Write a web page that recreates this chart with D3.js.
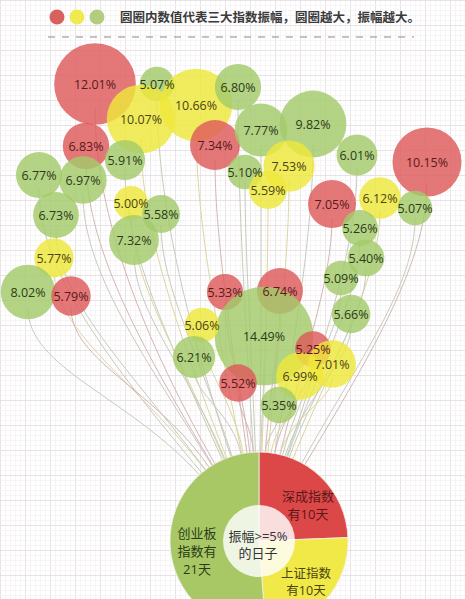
<!DOCTYPE html>
<html><head><meta charset="utf-8">
<script src="https://cdn.jsdelivr.net/npm/d3@7/dist/d3.min.js"></script>
<style>
html,body{margin:0;padding:0;background:#fff;}
svg{display:block;}
text{font-family:"Open Sans","Noto Sans","Noto Sans CJK SC",sans-serif;}
</style></head>
<body>
<script>
// ---- data ----
const values = [12.01,5.07,10.07,10.66,6.80,7.34,6.83,5.91,6.77,6.97,6.73,5.00,5.58,7.32,5.77,8.02,5.79,
  7.77,9.82,7.53,5.10,5.59,6.01,10.15,7.05,6.12,5.07,5.26,5.40,5.09,5.66,
  5.33,6.74,14.49,5.06,6.21,5.25,7.01,6.99,5.52,5.35];
// 0 = 深成指数 (red), 1 = 上证指数 (yellow), 2 = 创业板指数 (green)
const series = [0,2,1,1,2,0,0,2,2,2,2,1,2,2,1,2,0,
  2,2,1,2,1,2,0,0,1,2,2,2,2,2,
  0,0,2,1,2,0,1,1,0,2];
// layout position of each bubble, in grid cells
const posX = [19,31.4,28.2,39.2,47.6,43,17.2,25,7.8,16.6,11.2,26.2,32.2,26.8,10.8,5.6,14.2,
  52.2,62.6,57.8,49,53.6,71.4,85.4,66.4,76,83,72,73.2,68.2,70.2,
  45,56,52.8,40.4,38.8,62.6,66.4,60,47.6,55.8];
const posY = [16.8,16.8,23.8,21,17.4,29,29.2,32,35,36,43,40.6,42.8,48,51.6,58.4,59.2,
  26,24.8,33.2,34.4,38,31,32.4,40.8,39.6,41.6,45.6,51.6,55.6,62.8,
  58.4,58.2,67.2,65,71.4,69.8,72.8,75.2,76.6,81];
const pieNames = ["深成指数","上证指数","创业板指数"];
const pieDays = [10,10,21];
const pieLabels = [["深成指数","有10天"],["上证指数","有10天"],["创业板","指数有","21天"]];
const centerLabel = ["振幅>=5%","的日子"];
const legendText = "圆圈内数值代表三大指数振幅，圆圈越大，振幅越大。";

// ---- styles ----
const W = 465, H = 599;
const bubbleFill = ["#de5a5a","#eee83a","#a4ca6a"];
const legendFill = ["#d9605c","#eeea50","#b2cc80"];
const pieFill = ["#dc4848","#f0e948","#a8c866"];
const lineCol = ["#d4b6b6","#dcd6a0","#c6ccbc"];
const textCol = ["#5a1818","#4a4410","#2c3a18"];

const svg = d3.select("body").append("svg").attr("width",W).attr("height",H);

// graph-paper background
const bg = svg.append("g");
d3.range(0,W+1,5).forEach(v=>bg.append("line").attr("x1",v+0.5).attr("x2",v+0.5).attr("y1",0).attr("y2",H)
  .attr("stroke", v%25===0?"#e2dcdf":"#f1eef0").attr("stroke-width",v%25===0?0.8:0.6));
d3.range(0,H+1,5).forEach(v=>bg.append("line").attr("y1",v+0.5).attr("y2",v+0.5).attr("x1",0).attr("x2",W)
  .attr("stroke", v%25===0?"#e2dcdf":"#f1eef0").attr("stroke-width",v%25===0?0.8:0.6));

const x = d3.scaleLinear().domain([0,93]).range([0,465]);
const y = d3.scaleLinear().domain([0,120]).range([0,600]);
const r = d3.scaleLinear().domain([0,15]).range([0,51]);

// legend
const lg = svg.append("g");
lg.selectAll("circle").data(legendFill).join("circle")
  .attr("cx",(c,i)=>57+i*20).attr("cy",17).attr("r",7.5).attr("fill",c=>c);
lg.append("text").attr("x",120).attr("y",21.5).attr("font-size",12.5).attr("font-weight","bold")
  .attr("fill","#3a3a3a").text(legendText);
lg.append("line").attr("x1",48).attr("x2",414).attr("y1",37).attr("y2",37)
  .attr("stroke","#8a8a8a").attr("stroke-width",1.2).attr("stroke-dasharray","7,7");

// pie geometry
const pcx = x(51.8), pcy = y(108.2), pR = 89, pInner = 36;
const data = values.map((v,i)=>({v, s:series[i], cx:x(posX[i]), cy:y(posY[i]), rr:r(v)}));

// strings
const ang = d3.scaleLinear().domain([28,427]).range([-42,31]);
const lines = svg.append("g").attr("fill","none");
data.forEach(d=>{
  const a = ang(d.cx)*Math.PI/180;
  const ox = Math.sin(a), oy = -Math.cos(a);
  const ex = pcx + pR*0.98*ox, ey = pcy + pR*0.98*oy;
  const sy = d.cy + d.rr*0.6;
  const dist = Math.hypot(ex-d.cx, ey-sy);
  const p = d3.path();
  p.moveTo(d.cx, sy);
  p.bezierCurveTo(d.cx, sy + dist*0.25, ex + ox*dist*0.45, ey + oy*dist*0.45, ex, ey);
  lines.append("path").attr("d",p.toString()).attr("stroke",lineCol[d.s]).attr("stroke-width",1);
});

// pie
const pie = d3.pie().sort(null).value(v=>v)(pieDays);
const arc = d3.arc().innerRadius(0).outerRadius(pR);
const pg = svg.append("g").attr("transform",`translate(${pcx},${pcy})`);
pg.selectAll("path").data(pie).join("path").attr("d",arc).attr("fill",(p,i)=>pieFill[i])
  .attr("stroke","#f4f0e8").attr("stroke-width",0.8);
pg.append("circle").attr("r",pInner).attr("fill","#ffffff").attr("opacity",0.82);
const labelPos = [[49,-40,18,13],[47,37,17,12.5],[-62,-3,18,13]];
pieLabels.forEach((lines2,i)=>{
  lines2.forEach((s,j)=>pg.append("text").attr("text-anchor","middle").attr("font-size",labelPos[i][3])
    .attr("fill",textCol[i]).attr("x",labelPos[i][0]).attr("y",labelPos[i][1]+j*labelPos[i][2]).text(s));
});
centerLabel.forEach((s,j)=>pg.append("text").attr("text-anchor","middle").attr("font-size",13)
  .attr("fill","#333").attr("x",-1).attr("y",0+j*17).text(s));

// bubbles
const bg2 = svg.append("g");
bg2.selectAll("circle").data(data).join("circle")
  .attr("cx",d=>d.cx).attr("cy",d=>d.cy).attr("r",d=>d.rr)
  .attr("fill",d=>bubbleFill[d.s]).attr("opacity",0.82);
bg2.selectAll("text").data(data).join("text")
  .attr("x",d=>d.cx).attr("y",d=>d.cy+4.5).attr("text-anchor","middle")
  .attr("font-size",12.5).attr("fill",d=>textCol[d.s])
  .text(d=>d.v.toFixed(2)+"%");
</script>
</body></html>
